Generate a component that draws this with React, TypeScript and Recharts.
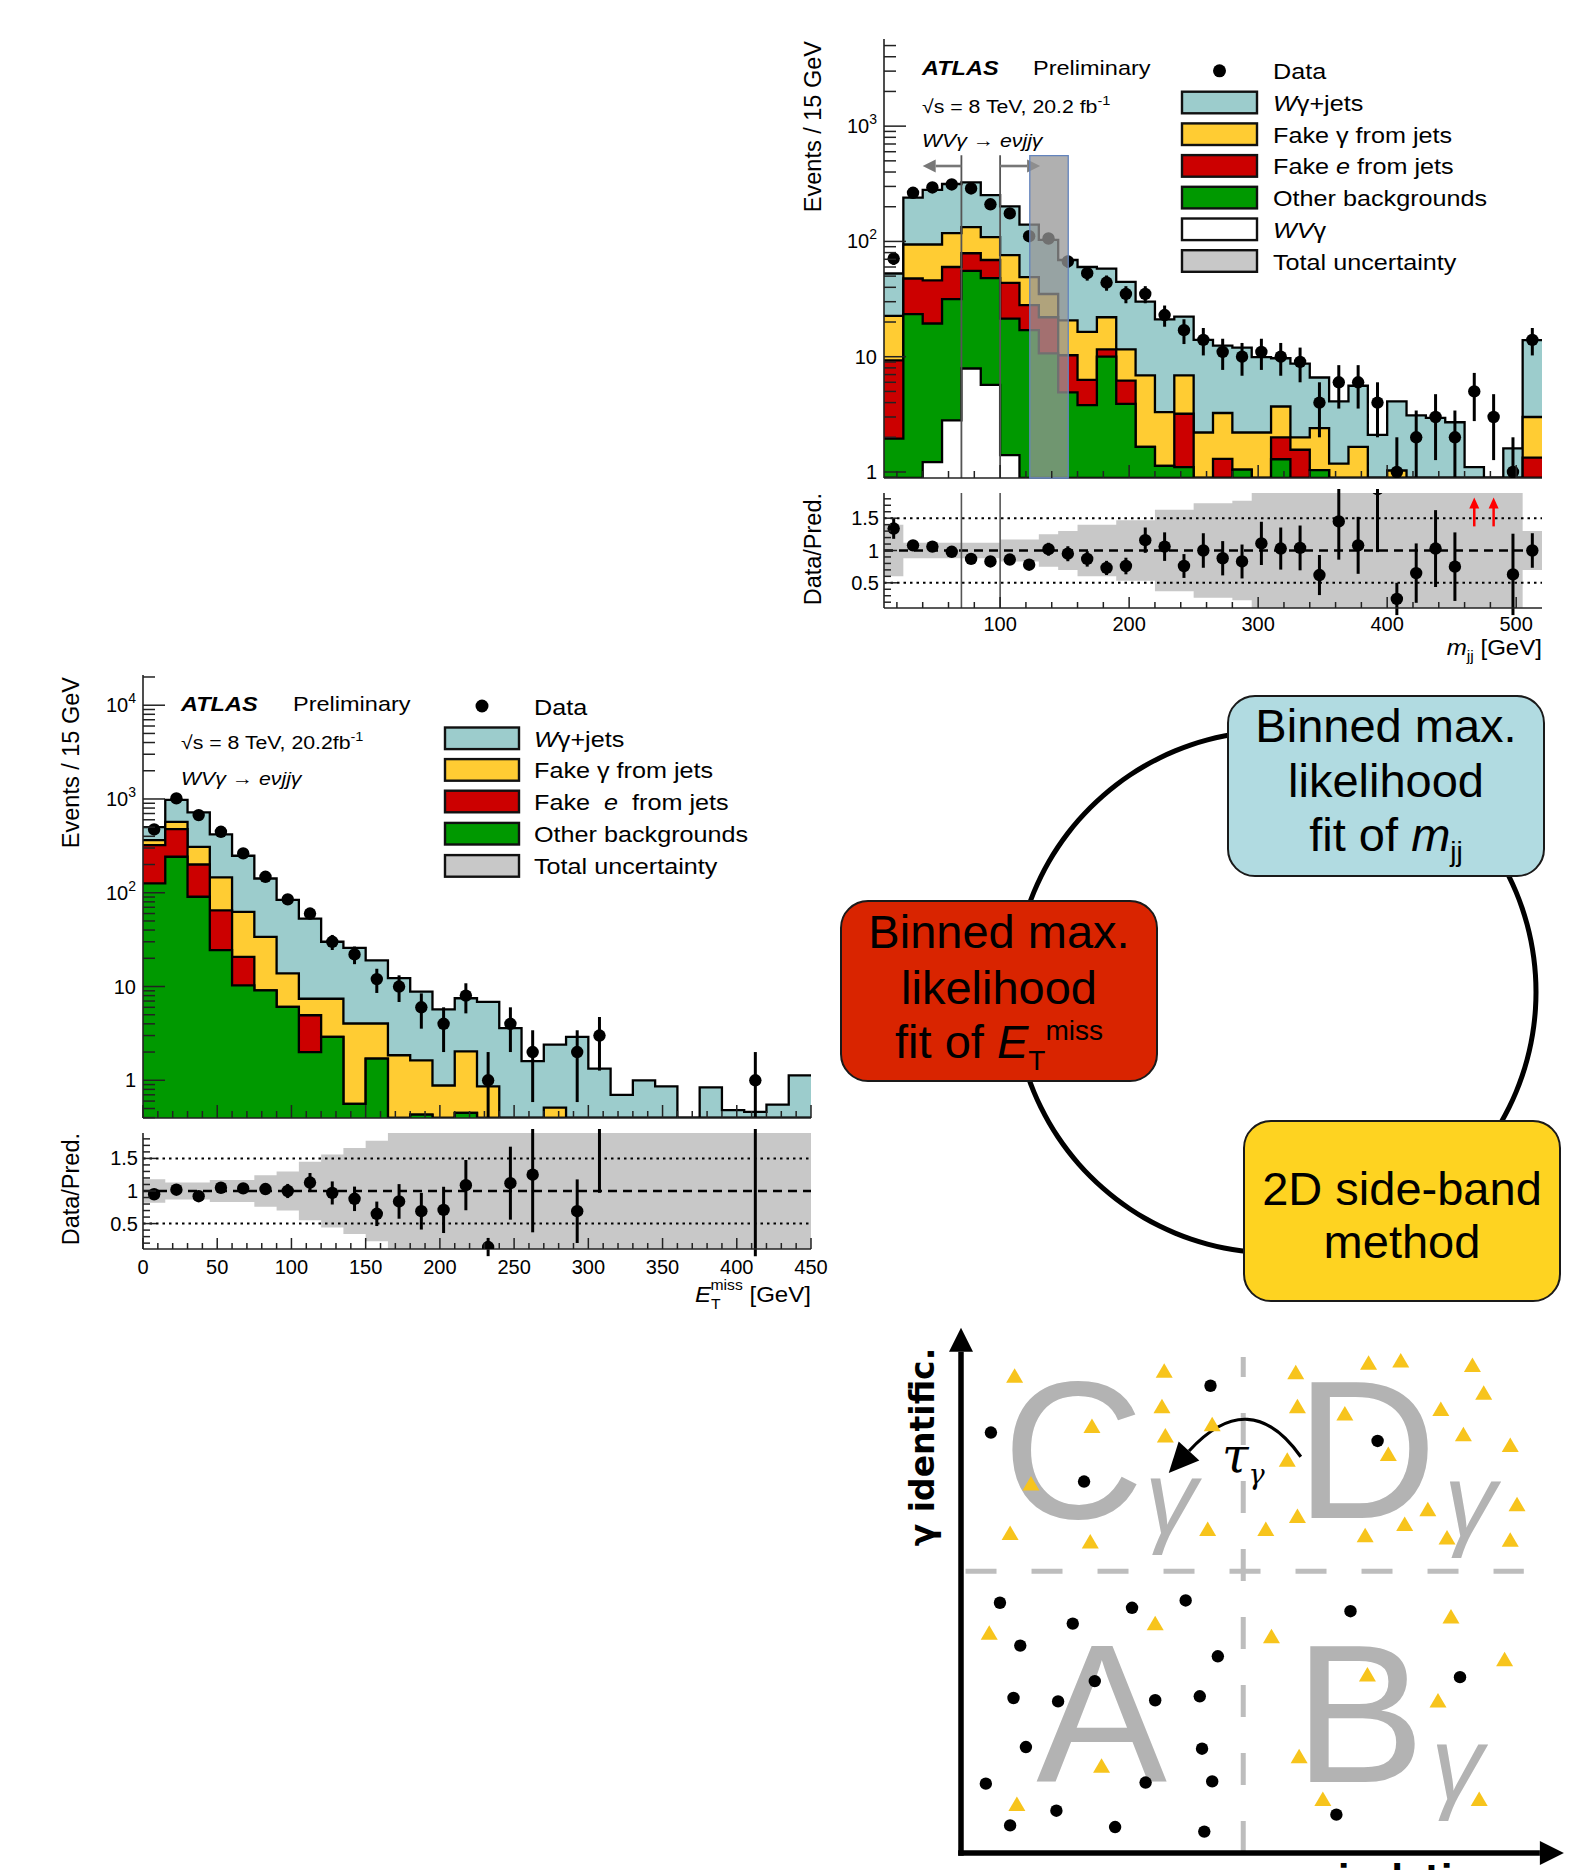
import React from 'react';
import {
  ComposedChart, ScatterChart, PieChart, Pie, Area, Scatter, XAxis, YAxis, ErrorBar,
  ReferenceLine, ReferenceArea, Legend,
} from 'recharts';

const FONT = '"Liberation Sans", Arial, Helvetica, sans-serif';
const BOLD_FONT = '"DejaVu Sans", "Liberation Sans", sans-serif';
const FRAME = '#222';
const C_WGJ = '#9ccccc';
const C_FAKEG = '#ffcc33';
const C_FAKEE = '#cc0000';
const C_OTHER = '#009900';
const C_WVG = '#ffffff';
const C_UNC = '#c8c8c8';

// ---------------- m_jj distribution (top right) ----------------
const mjjLowEdges = [10, 25, 40, 55, 70, 85, 100, 115, 130, 145, 160, 175, 190, 205, 220, 235, 250, 265, 280, 295, 310, 325, 340, 355, 370, 385, 400, 415, 430, 445, 460, 475, 490, 505];
const mjjHighEdge = 520;
const mjjWVgamma = [0, 0, 1.22, 2.8, 7.9, 5.7, 1.4, 0, 0, 0, 0, 0, 0, 0, 0, 0, 0, 0, 0, 0, 0, 0, 0, 0, 0, 0, 0, 0, 0, 0, 0, 0, 0, 0];
const mjjOther = [1.95, 23.4, 18.2, 28.8, 47.7, 42.3, 20, 17, 10.7, 4.9, 3.8, 10, 3.9, 1.65, 1.13, 1.1, 0, 0, 1.05, 0, 1.29, 0, 1.04, 0, 0, 0, 0, 0, 0, 0, 0, 0, 0, 0];
const mjjFakeE = [7.35, 24.3, 26.6, 28.4, 23.4, 21, 22.3, 11, 11.3, 5.4, 2.5, 1.6, 2.3, 0, 0, 2.1, 0, 1.3, 0, 0, 0.71, 1.56, 0, 0, 0, 0, 0, 0, 0, 0, 0, 0, 0, 1.33];
const mjjFakeGamma = [13.3, 46.3, 48, 58, 54, 40, 32.3, 21, 13, 10.4, 10.1, 10.4, 5.4, 5.25, 2.17, 3.7, 2.2, 1.95, 1.15, 2.2, 1.7, 0.44, 1.36, 1.18, 1.65, 0, 1.03, 0, 0, 0, 0, 0, 0, 1.67];
const mjjWgammaJets = [30.1, 146, 186, 197, 192, 143, 125, 91, 68, 48.3, 43.6, 36, 32.9, 23.1, 17.8, 15.4, 11.8, 9.25, 9.8, 7.7, 6.0, 6.7, 4.2, 2.92, 3.95, 2.1, 3.07, 3.1, 2.95, 2.7, 1.1, 0, 1.6, 10.9];
const mjjData = [71, 264, 294, 312, 288, 210, 175, 111, 106, 67, 53, 44, 35, 35, 23, 17, 14, 11, 10, 11, 10, 9, 4, 6, 6, 4, 1, 2, 3, 2, 5, 3, 1, 14];
const mjjRatio: (number | null)[] = [1.34, 1.08, 1.06, 0.98, 0.87, 0.83, 0.86, 0.78, 1.02, 0.95, 0.87, 0.73, 0.76, 1.16, 1.06, 0.76, 1.0, 0.88, 0.83, 1.11, 1.03, 1.04, 0.62, 1.45, 1.08, 1.95, 0.25, 0.65, 1.03, 0.75, null, null, 0.63, 1.0];
const mjjUncert = [0.40, 0.12, 0.12, 0.12, 0.12, 0.12, 0.17, 0.17, 0.25, 0.3, 0.4, 0.4, 0.47, 0.47, 0.63, 0.63, 0.73, 0.73, 0.77, 1, 1, 1, 1, 1, 1, 1, 1, 1, 1, 1, 1, 1, 1, 0.3];
const mjjArrowX = [467.5, 482.5];
const mjjArrowRatio = [1.59, 1.59];
const mjjXMajors = [100, 200, 300, 400, 500];
const mjjXMinors = [20, 40, 60, 80, 120, 140, 160, 180, 220, 240, 260, 280, 320, 340, 360, 380, 420, 440, 460, 480];
const mjjWindow = [70, 100];
const mjjBox = [123, 152.8];
const MJJ_FLOOR = 0.887;
const MJJ_TOP = 5700;

// ---------------- E_T^miss distribution (middle left) ----------------
const metLowEdges = [0, 15, 30, 45, 60, 75, 90, 105, 120, 135, 150, 165, 180, 195, 210, 225, 240, 255, 270, 285, 300, 315, 330, 345, 360, 375, 390, 405, 420, 435];
const metHighEdge = 450;
const metOther = [126, 242, 90.6, 24.4, 10.3, 9.1, 6.06, 2.0, 2.9, 0.56, 1.7, 0, 0.43, 0, 0.45, 0, 0, 0, 0, 0, 0, 0, 0, 0, 0, 0, 0, 0, 0, 0];
const metFakeE = [196, 235, 109.4, 40.6, 10.4, 0, 0, 2.94, 0, 0, 0, 0, 0, 0, 0, 0, 0, 0, 0, 0, 0, 0, 0, 0, 0, 0, 0, 0, 0, 0];
const metFakeGamma = [42, 94, 109, 81, 41.8, 24.7, 7.74, 2.46, 4.5, 3.47, 2.33, 1.85, 1.2, 0.88, 1.58, 0.86, 0, 0, 0.51, 0, 0, 0, 0, 0, 0, 0, 0, 0, 0, 0];
const metWgammaJets = [136, 409, 411, 274, 185.5, 108, 70, 45.6, 22.6, 21.8, 15, 10.45, 7.17, 4.82, 5.47, 5.99, 3.6, 1.6, 1.89, 2.9, 1.33, 0.70, 1.0, 0.86, 0, 0.84, 0.48, 0.46, 0.55, 1.13];
const metData = [473, 1015, 673, 447, 263, 148, 85, 60, 30, 22, 12, 10, 6, 4, 8, 1, 4, 2, 0, 2, 3, 0, 0, 0, 0, 0, 0, 1, 0, 0];
const metRatio: (number | null)[] = [0.95, 1.02, 0.92, 1.05, 1.04, 1.03, 1.0, 1.13, 0.97, 0.88, 0.65, 0.84, 0.69, 0.71, 1.09, 0.14, 1.12, 1.25, null, 0.69, 2.3, null, null, null, null, null, null, 2.2, null, null];
const metUncert = [0.18, 0.13, 0.13, 0.17, 0.17, 0.24, 0.3, 0.45, 0.56, 0.66, 0.77, 1, 1, 1, 1, 1, 1, 1, 1, 1, 1, 1, 1, 1, 1, 1, 1, 1, 1, 1];
const metXMajors = [0, 50, 100, 150, 200, 250, 300, 350, 400, 450];
const metXMinors = [10, 20, 30, 40, 60, 70, 80, 90, 110, 120, 130, 140, 160, 170, 180, 190, 210, 220, 230, 240, 260, 270, 280, 290, 310, 320, 330, 340, 360, 370, 380, 390, 410, 420, 430, 440];
const MET_FLOOR = 0.396;
const MET_TOP = 21000;

// ---------------- legends ----------------
const mjjLegendNames = ['Data', 'Wγ+jets', 'Fake γ from jets', 'Fake e from jets', 'Other backgrounds', 'WVγ', 'Total uncertainty'];
const mjjLegendColors = ['data', C_WGJ, C_FAKEG, C_FAKEE, C_OTHER, C_WVG, C_UNC];
const metLegendNames = ['Data', 'Wγ+jets', 'Fake γ from jets', 'Fake  e  from jets', 'Other backgrounds', 'Total uncertainty'];
const metLegendColors = ['data', C_WGJ, C_FAKEG, C_FAKEE, C_OTHER, C_UNC];

// ---------------- ABCD side-band sketch ----------------
const dotsX = [0.53, 2.18, 4.42, 7.38, 0.69, 3.03, 3.98, 1.98, 1.05, 4.55, 2.37, 0.93, 1.72, 3.44, 4.23, 1.15, 4.27, 0.44, 3.27, 4.45, 1.69, 0.87, 2.73, 4.31, 6.90, 8.84, 6.65];
const dotsY = [7.46, 6.59, 8.29, 7.31, 4.44, 4.35, 4.48, 4.07, 3.68, 3.49, 3.05, 2.75, 2.69, 2.71, 2.78, 1.88, 1.85, 1.23, 1.25, 1.27, 0.75, 0.49, 0.46, 0.38, 4.29, 3.12, 0.68];
const triX = [0.95, 3.60, 3.56, 2.32, 3.62, 4.45, 1.24, 0.87, 2.29, 4.37, 5.93, 5.96, 6.80, 7.22, 7.79, 9.06, 9.26, 8.50, 8.90, 9.73, 7.57, 5.78, 8.27, 7.86, 5.96, 5.40, 7.16, 8.61, 9.85, 9.73, 0.50, 3.44, 2.49, 0.99, 5.50, 8.68, 9.63, 7.20, 8.45, 5.99, 6.41, 9.18];
const triY = [8.45, 8.54, 7.91, 7.56, 7.39, 7.59, 6.54, 5.66, 5.51, 5.73, 8.51, 7.91, 7.78, 8.68, 8.72, 8.64, 8.15, 7.86, 7.41, 7.22, 7.06, 6.96, 6.08, 5.82, 5.96, 5.73, 5.62, 5.58, 6.17, 5.54, 3.89, 4.06, 1.53, 0.85, 3.83, 4.18, 3.42, 3.15, 2.69, 1.70, 0.94, 0.94];
const regionNames = ['C', 'D', 'A', 'B'];
const regionX = [1.99, 7.18, 2.49, 7.06];
const regionY = [5.94, 5.94, 1.26, 1.26];
const gammaX = [3.72, 9.02, 8.79];
const gammaY = [5.68, 5.63, 0.95];
const tauPos = [5.0, 6.76];
const transferFrom = [6.02, 7.03];
const transferTo = [3.68, 6.74];
const ABCD_X_MAX = 10.7;
const ABCD_Y_MAX = 9.35;
const cutIso = 5;
const cutId = 5;

// ---------------- helpers ----------------
function stackRows(low: number[], high: number, comps: number[][], floor: number) {
  const n = low.length;
  const rows: any[] = [];
  for (let i = 0; i <= n; i++) {
    const k = Math.min(i, n - 1);
    const row: any = { x: i < n ? low[i] : high };
    let acc = 0;
    comps.forEach((c, j) => {
      acc += c[k];
      row['s' + j] = Math.max(acc, floor);
    });
    rows.push(row);
  }
  return rows;
}
function binCenter(low: number[], high: number, i: number) {
  return (low[i] + (i + 1 < low.length ? low[i + 1] : high)) / 2;
}
function dataPoints(low: number[], high: number, counts: number[], floor: number) {
  return counts
    .map((n, i) => {
      const s = Math.sqrt(n);
      return { x: binCenter(low, high, i), y: n, e: [Math.min(s, n - floor * 1.0005), s] };
    })
    .filter((p) => p.y > 0);
}
function ratioPoints(low: number[], high: number, ratios: (number | null)[], counts: number[]) {
  const out: any[] = [];
  ratios.forEach((r, i) => {
    if (r === null || counts[i] <= 0) return;
    out.push({ x: binCenter(low, high, i), y: r, e: r / Math.sqrt(counts[i]) });
  });
  return out;
}
function bandRows(low: number[], high: number, unc: number[]) {
  const rows: any[] = low.map((l, i) => ({ x: l, band: [1 - unc[i], 1 + unc[i]] }));
  rows.push({ x: high, band: rows[rows.length - 1].band });
  return rows;
}
const logTicks = (lo: number, hi: number) => {
  const t: number[] = [];
  for (let e = -1; e <= 4; e++) {
    for (let m = 1; m <= 9; m++) {
      const v = Number((m * Math.pow(10, e)).toPrecision(6));
      if (v >= lo && v <= hi) t.push(v);
    }
  }
  return t;
};
const logMajors = [1, 10, 100, 1000, 10000];
const ratioTicks = [0.2, 0.3, 0.4, 0.5, 0.6, 0.7, 0.8, 0.9, 1, 1.1, 1.2, 1.3, 1.4, 1.5, 1.6, 1.7, 1.8];
const ratioMajors = [0.5, 1, 1.5];

type Side = 'bottom' | 'top' | 'left' | 'right';
function tickRenderer(side: Side, majors: number[], majLen: number, minLen: number, labelFn: ((v: number) => any) | null, gap: number) {
  const isMaj = (v: number) => majors.some((m) => Math.abs(m - v) < 1e-6 * Math.max(1, Math.abs(m)));
  return (p: any) => {
    const v = Number(p.payload.value);
    const x = Number(p.x);
    const y = Number(p.y);
    const maj = isMaj(v);
    const L = maj ? majLen : minLen;
    let x2 = x;
    let y2 = y;
    if (side === 'bottom') y2 = y - L;
    else if (side === 'top') y2 = y + L;
    else if (side === 'left') x2 = x + L;
    else x2 = x - L;
    let label: any = null;
    if (labelFn && maj) {
      if (side === 'bottom') {
        label = (
          <text x={x} y={y + gap} textAnchor="middle" fontSize={20} fontFamily={FONT} fill="#000">
            {labelFn(v)}
          </text>
        );
      } else if (side === 'left') {
        label = (
          <text x={x - gap} y={y + 7} textAnchor="end" fontSize={20} fontFamily={FONT} fill="#000">
            {labelFn(v)}
          </text>
        );
      }
    }
    return (
      <g>
        <line x1={x} y1={y} x2={x2} y2={y2} stroke={FRAME} strokeWidth={1.5} />
        {label}
      </g>
    );
  };
}
const logLabel = (v: number) => {
  const e = Math.round(Math.log10(v));
  if (e === 0) return '1';
  if (e === 1) return '10';
  return [
    <tspan key="b">10</tspan>,
    <tspan key="e" dy={-9} fontSize={14}>{String(e)}</tspan>,
  ];
};
const plainLabel = (v: number) => String(v);

const axisLine = { stroke: FRAME, strokeWidth: 1.6 };

const DataDot = (p: any) => <circle cx={p.cx} cy={p.cy} r={6.2} fill="#000" />;
const RedArrow = (p: any) => (
  <g>
    <line x1={p.cx} y1={p.cy + 14} x2={p.cx} y2={p.cy - 6} stroke="#f00" strokeWidth={2.5} />
    <polygon points={`${p.cx},${p.cy - 15} ${p.cx - 5},${p.cy - 4} ${p.cx + 5},${p.cy - 4}`} fill="#f00" />
  </g>
);
const arrowShape = (color: string, width: number, headLen: number, headHalf: number) => (p: any) => {
  const { x1, y1, x2, y2 } = p;
  const ang = Math.atan2(y2 - y1, x2 - x1);
  const bx = x2 - headLen * Math.cos(ang);
  const by = y2 - headLen * Math.sin(ang);
  const nx = -Math.sin(ang) * headHalf;
  const ny = Math.cos(ang) * headHalf;
  return (
    <g>
      <line x1={x1} y1={y1} x2={bx} y2={by} stroke={color} strokeWidth={width} />
      <polygon points={`${x2},${y2} ${bx + nx},${by + ny} ${bx - nx},${by - ny}`} fill={color} />
    </g>
  );
};
const curvedArrow = (p: any) => {
  const { x1, y1, x2, y2 } = p;
  const cx = (x1 + x2) / 2 + 15;
  const cy = Math.min(y1, y2) - 72;
  const ang = Math.atan2(y2 - cy, x2 - cx);
  const headLen = 30;
  const headHalf = 14;
  const bx = x2 - headLen * Math.cos(ang);
  const by = y2 - headLen * Math.sin(ang);
  const nx = -Math.sin(ang) * headHalf;
  const ny = Math.cos(ang) * headHalf;
  return (
    <g>
      <path d={`M${x1},${y1} Q${cx},${cy} ${bx},${by}`} fill="none" stroke="#000" strokeWidth={3.2} />
      <polygon points={`${x2},${y2} ${bx + nx},${by + ny} ${bx - nx},${by - ny}`} fill="#000" />
    </g>
  );
};

function richName(name: string) {
  if (name === 'Wγ+jets') return [<tspan key="a" fontStyle="italic">W</tspan>, <tspan key="b">γ+jets</tspan>];
  if (name === 'WVγ') return [<tspan key="a" fontStyle="italic">WV</tspan>, <tspan key="b">γ</tspan>];
  if (name.indexOf(' e ') >= 0) {
    const parts = name.split(' e ');
    return [<tspan key="a">{parts[0] + ' '}</tspan>, <tspan key="b" fontStyle="italic">e</tspan>, <tspan key="c">{' ' + parts[1]}</tspan>];
  }
  return name;
}

function LegendBlock(props: { ox: number; oy: number; w: number; h: number; names: string[]; colors: string[]; rowY: number[]; boxX: number; boxW: number; textX: number }) {
  const { ox, oy, w, h, names, colors, rowY, boxX, boxW, textX } = props;
  return (
    <svg width={w} height={h} style={{ overflow: 'visible' }}>
      <g transform={`translate(${-ox},${-oy})`}>
        {names.map((n, i) => (
          <g key={n}>
            {colors[i] === 'data' ? (
              <circle cx={boxX + boxW / 2} cy={rowY[i]} r={6.5} fill="#000" />
            ) : (
              <rect x={boxX} y={rowY[i] - 10.8} width={boxW} height={21.6} fill={colors[i]} stroke="#111" strokeWidth={2.4} />
            )}
            <g transform={`translate(${textX},${rowY[i] + 8.5}) scale(1.12 1)`}>
              <text x={0} y={0} fontSize={22.5} fontFamily={FONT} fill="#000" style={{ whiteSpace: 'pre' }}>
                {richName(n)}
              </text>
            </g>
          </g>
        ))}
      </g>
    </svg>
  );
}

function StretchText(props: { x: number; y: number; size: number; anchor?: string; sx?: number; weight?: string; italic?: boolean; family?: string; fill?: string; children: any }) {
  const { x, y, size, anchor = 'start', sx = 1.12, weight, italic, family = FONT, fill = '#000', children } = props;
  return (
    <g transform={`translate(${x} ${y}) scale(${sx} 1)`}>
      <text x={0} y={0} fontSize={size} textAnchor={anchor as any} fontWeight={weight} fontStyle={italic ? 'italic' : undefined} fontFamily={family} fill={fill}>
        {children}
      </text>
    </g>
  );
}

// ---------------- histogram panels ----------------
function HistMain(props: {
  plotL: number; plotT: number; plotW: number; plotH: number; leftW: number; topM: number; rightM: number;
  low: number[]; high: number; comps: number[][]; colors: string[]; counts: number[]; floor: number; top: number;
  xMajors: number[]; xMinors: number[]; children?: any; legend: any;
}) {
  const { plotL, plotT, plotW, plotH, leftW, topM, rightM, low, high, comps, colors, counts, floor, top, xMajors, xMinors, children, legend } = props;
  const rows = stackRows(low, high, comps, floor);
  const pts = dataPoints(low, high, counts, floor);
  const W = leftW + plotW + rightM;
  const H = topM + plotH + 4;
  const xTicks = [...xMajors, ...xMinors].sort((a, b) => a - b);
  const yTicks = logTicks(floor, top);
  const dom: [number, number] = [low[0], high];
  const keys = comps.map((_, j) => 's' + j).reverse();
  const cols = [...colors].reverse();
  return (
    <div style={{ position: 'absolute', left: plotL - leftW, top: plotT - topM, width: W, height: H }}>
      <ComposedChart width={W} height={H} data={rows} margin={{ top: topM, right: rightM, bottom: 0, left: 0 }}>
        <XAxis dataKey="x" type="number" domain={dom} allowDataOverflow ticks={xTicks} interval={0} tickSize={0} tickMargin={0} tickLine={false} height={4} axisLine={axisLine} tick={tickRenderer('bottom', xMajors, 13, 7, null, 0)} />
        <XAxis xAxisId="top" orientation="top" type="number" domain={dom} allowDataOverflow ticks={xTicks} interval={0} tickSize={0} tickMargin={0} tickLine={false} height={0} axisLine={axisLine} tick={tickRenderer('top', xMajors, 13, 7, null, 0)} />
        <YAxis scale="log" type="number" domain={[floor, top]} allowDataOverflow ticks={yTicks} interval={0} width={leftW} tickSize={0} tickMargin={0} tickLine={false} axisLine={axisLine} tick={tickRenderer('left', logMajors, 22, 12, logLabel, 7)} />
        <YAxis yAxisId="right" orientation="right" scale="log" type="number" domain={[floor, top]} allowDataOverflow ticks={yTicks} interval={0} width={0} tickSize={0} tickMargin={0} tickLine={false} axisLine={axisLine} tick={tickRenderer('right', logMajors, 22, 12, null, 0)} />
        {keys.map((k, i) => (
          <Area key={k} dataKey={k} type="stepAfter" baseValue={floor} stroke="#000" strokeWidth={2.3} fill={cols[i]} fillOpacity={1} isAnimationActive={false} dot={false} activeDot={false} />
        ))}
        {children}
        <Scatter data={pts} dataKey="y" shape={DataDot} isAnimationActive={false}>
          <ErrorBar dataKey="e" direction="y" width={0} strokeWidth={3} stroke="#000" />
        </Scatter>
        {legend}
      </ComposedChart>
    </div>
  );
}

function HistRatio(props: {
  plotL: number; plotT: number; plotW: number; plotH: number; leftW: number; topM: number; rightM: number; bottomH: number; labelGap: number;
  low: number[]; high: number; ratios: (number | null)[]; counts: number[]; unc: number[]; xMajors: number[]; xMinors: number[]; children?: any; after?: any;
}) {
  const { plotL, plotT, plotW, plotH, leftW, topM, rightM, bottomH, labelGap, low, high, ratios, counts, unc, xMajors, xMinors, children, after } = props;
  const rows = bandRows(low, high, unc);
  const pts = ratioPoints(low, high, ratios, counts);
  const W = leftW + plotW + rightM;
  const H = topM + plotH + bottomH;
  const xTicks = [...xMajors, ...xMinors].sort((a, b) => a - b);
  const dom: [number, number] = [low[0], high];
  const ydom: [number, number] = [0.11, 1.89];
  return (
    <div style={{ position: 'absolute', left: plotL - leftW, top: plotT - topM, width: W, height: H }}>
      <ComposedChart width={W} height={H} data={rows} margin={{ top: topM, right: rightM, bottom: 0, left: 0 }}>
        <XAxis dataKey="x" type="number" domain={dom} allowDataOverflow ticks={xTicks} interval={0} tickSize={0} tickMargin={0} tickLine={false} height={bottomH} axisLine={axisLine} tick={tickRenderer('bottom', xMajors, 11, 6, plainLabel, labelGap)} />
        <XAxis xAxisId="top" orientation="top" type="number" domain={dom} allowDataOverflow ticks={xTicks} interval={0} tickSize={0} tickMargin={0} tickLine={false} height={0} axisLine={axisLine} tick={tickRenderer('top', xMajors, 11, 6, null, 0)} />
        <YAxis type="number" domain={ydom} allowDataOverflow ticks={ratioTicks} interval={0} width={leftW} tickSize={0} tickMargin={0} tickLine={false} axisLine={axisLine} tick={tickRenderer('left', ratioMajors, 13, 7, plainLabel, 5)} />
        <YAxis yAxisId="right" orientation="right" type="number" domain={ydom} allowDataOverflow ticks={ratioTicks} interval={0} width={0} tickSize={0} tickMargin={0} tickLine={false} axisLine={axisLine} tick={tickRenderer('right', ratioMajors, 13, 7, null, 0)} />
        <Area dataKey="band" type="stepAfter" stroke="none" fill={C_UNC} fillOpacity={1} isAnimationActive={false} dot={false} activeDot={false} />
        <ReferenceLine y={0.5} stroke="#000" strokeWidth={2} strokeDasharray="2.5 4" />
        <ReferenceLine y={1.5} stroke="#000" strokeWidth={2} strokeDasharray="2.5 4" />
        <ReferenceLine y={1} stroke="#000" strokeWidth={2.6} strokeDasharray="9 6" />
        {children}
        <Scatter data={pts} dataKey="y" shape={DataDot} isAnimationActive={false}>
          <ErrorBar dataKey="e" direction="y" width={0} strokeWidth={3} stroke="#000" />
        </Scatter>
        {after}
      </ComposedChart>
    </div>
  );
}

// ---------------- page ----------------
export default function App() {
  const mjjLegend = (
    <Legend
      layout="vertical"
      align="center"
      verticalAlign="middle"
      wrapperStyle={{ left: 1170 - 784, top: 52 - 20, width: 360, height: 225 }}
      content={() => (
        <LegendBlock ox={1170} oy={52} w={360} h={225} names={mjjLegendNames} colors={mjjLegendColors}
          rowY={[70.8, 102.5, 134.2, 165.9, 197.6, 229.3, 261]} boxX={1182} boxW={75} textX={1273} />
      )}
    />
  );
  const metLegend = (
    <Legend
      layout="vertical"
      align="center"
      verticalAlign="middle"
      wrapperStyle={{ left: 430 - 43, top: 690 - 665, width: 360, height: 195 }}
      content={() => (
        <LegendBlock ox={430} oy={690} w={360} h={195} names={metLegendNames} colors={metLegendColors}
          rowY={[706, 738.3, 769.9, 801.5, 833.7, 865.9]} boxX={445} boxW={74} textX={534} />
      )}
    />
  );

  const letterPts = regionNames.map((t, i) => ({ x: regionX[i], y: regionY[i], t }));
  const gammaPts = gammaX.map((x, i) => ({ x, y: gammaY[i] }));
  const dotPts = dotsX.map((x, i) => ({ x, y: dotsY[i] }));
  const triPts = triX.map((x, i) => ({ x, y: triY[i] }));
  const tauPts = [{ x: tauPos[0], y: tauPos[1] }];

  return (
    <div style={{ position: 'absolute', left: 0, top: 0, width: 1591, height: 1870, overflow: 'hidden', background: '#fff', fontFamily: FONT }}>
      {/* m_jj main */}
      <HistMain plotL={884} plotT={39} plotW={658} plotH={439} leftW={100} topM={19} rightM={30}
        low={mjjLowEdges} high={mjjHighEdge} comps={[mjjWVgamma, mjjOther, mjjFakeE, mjjFakeGamma, mjjWgammaJets]}
        colors={[C_WVG, C_OTHER, C_FAKEE, C_FAKEG, C_WGJ]} counts={mjjData} floor={MJJ_FLOOR} top={MJJ_TOP}
        xMajors={mjjXMajors} xMinors={mjjXMinors} legend={mjjLegend}>
        {mjjWindow.map((w) => (
          <ReferenceLine key={'w' + w} segment={[{ x: w, y: MJJ_FLOOR }, { x: w, y: 560 }]} stroke="#555" strokeWidth={1.8} />
        ))}
        <ReferenceLine segment={[{ x: mjjWindow[0], y: 451 }, { x: 40, y: 451 }]} shape={arrowShape('#777', 2.6, 13, 6.5)} />
        <ReferenceLine segment={[{ x: mjjWindow[1], y: 451 }, { x: 131, y: 451 }]} shape={arrowShape('#777', 2.6, 13, 6.5)} />
        <ReferenceArea x1={mjjBox[0]} x2={mjjBox[1]} y1={MJJ_FLOOR} y2={555} fill="#969696" fillOpacity={0.75} stroke="#6384bd" strokeWidth={1.3} zIndex={700} />
      </HistMain>

      {/* m_jj ratio */}
      <HistRatio plotL={884} plotT={493} plotW={658} plotH={115} leftW={100} topM={4} rightM={30} bottomH={30} labelGap={23}
        low={mjjLowEdges} high={mjjHighEdge} ratios={mjjRatio} counts={mjjData} unc={mjjUncert}
        xMajors={mjjXMajors} xMinors={mjjXMinors}
        after={<Scatter data={mjjArrowX.map((x, i) => ({ x, y: mjjArrowRatio[i] }))} dataKey="y" shape={RedArrow} isAnimationActive={false} />}>
        {mjjWindow.map((w) => (
          <ReferenceLine key={'rw' + w} x={w} stroke="#555" strokeWidth={1.6} />
        ))}
      </HistRatio>

      {/* MET main */}
      <HistMain plotL={143} plotT={675} plotW={668} plotH={443} leftW={100} topM={10} rightM={20}
        low={metLowEdges} high={metHighEdge} comps={[metOther, metFakeE, metFakeGamma, metWgammaJets]}
        colors={[C_OTHER, C_FAKEE, C_FAKEG, C_WGJ]} counts={metData} floor={MET_FLOOR} top={MET_TOP}
        xMajors={metXMajors} xMinors={metXMinors} legend={metLegend} />

      {/* MET ratio */}
      <HistRatio plotL={143} plotT={1133} plotW={668} plotH={116} leftW={100} topM={4} rightM={20} bottomH={34} labelGap={25}
        low={metLowEdges} high={metHighEdge} ratios={metRatio} counts={metData} unc={metUncert}
        xMajors={metXMajors} xMinors={metXMinors} />

      {/* loop diagram ring */}
      <div style={{ position: 'absolute', left: 1275 - 265, top: 992 - 265, width: 530, height: 530 }}>
        <PieChart width={530} height={530} margin={{ top: 0, right: 0, bottom: 0, left: 0 }}>
          <Pie data={[{ name: 'loop', value: 1 }]} dataKey="value" cx={265} cy={265} innerRadius={258.5} outerRadius={263.5}
            startAngle={0} endAngle={360} fill="#000" stroke="none" isAnimationActive={false} />
        </PieChart>
      </div>
      {[
        { l: 840, t: 900, c: '#d92400' },
        { l: 1227, t: 695, c: '#b1dbe1' },
        { l: 1243, t: 1120, c: '#fed321' },
      ].map((b, i) => (
        <div key={i} style={{ position: 'absolute', left: b.l, top: b.t, width: 318, height: 182, boxSizing: 'border-box', background: b.c, border: '2px solid #1a1a1a', borderRadius: 28 }} />
      ))}

      {/* ABCD sketch */}
      <div style={{ position: 'absolute', left: 961 - 20, top: 1326 - 20, width: 644, height: 567 }}>
        <ScatterChart width={644} height={567} margin={{ top: 20, right: 20, bottom: 20, left: 20 }}>
          <XAxis type="number" dataKey="x" domain={[0, ABCD_X_MAX]} allowDataOverflow hide />
          <YAxis type="number" dataKey="y" domain={[0, ABCD_Y_MAX]} allowDataOverflow hide />
          <Scatter data={letterPts} isAnimationActive={false}
            shape={(p: any) => (
              <text x={p.cx} y={p.cy} textAnchor="middle" fontSize={196} fontFamily={FONT} fill="#b3b3b3">{p.payload.t}</text>
            )} />
          <Scatter data={gammaPts} isAnimationActive={false}
            shape={(p: any) => (
              <text x={p.cx} y={p.cy} textAnchor="middle" fontSize={104} fontStyle="italic" fontFamily={FONT} fill="#b3b3b3">γ</text>
            )} />
          <ReferenceLine segment={[{ x: cutIso, y: 0 }, { x: cutIso, y: 8.8 }]} stroke="#bdbdbd" strokeWidth={5} strokeDasharray="32 36" ifOverflow="visible" />
          <ReferenceLine segment={[{ x: 0.08, y: cutId }, { x: 9.97, y: cutId }]} stroke="#bdbdbd" strokeWidth={5} strokeDasharray="31 35" ifOverflow="visible" />
          <ReferenceLine segment={[{ x: 0, y: -0.05 }, { x: 0, y: 9.32 }]} shape={arrowShape('#000', 5.5, 24, 12)} ifOverflow="visible" />
          <ReferenceLine segment={[{ x: -0.05, y: 0 }, { x: 10.68, y: 0 }]} shape={arrowShape('#000', 5.5, 24, 12)} ifOverflow="visible" />
          <ReferenceLine segment={[{ x: transferFrom[0], y: transferFrom[1] }, { x: transferTo[0], y: transferTo[1] }]} shape={curvedArrow} ifOverflow="visible" />
          <Scatter data={tauPts} isAnimationActive={false}
            shape={(p: any) => (
              <text x={p.cx} y={p.cy} textAnchor="middle" fontFamily='"DejaVu Serif", serif' fill="#000">
                <tspan fontSize={48} fontStyle="italic">τ</tspan>
                <tspan fontSize={27} fontStyle="italic" dy={12}>γ</tspan>
              </text>
            )} />
          <Scatter data={triPts} isAnimationActive={false}
            shape={(p: any) => (
              <polygon points={`${p.cx},${p.cy - 8.5} ${p.cx - 8.5},${p.cy + 6} ${p.cx + 8.5},${p.cy + 6}`} fill="#f7c41c" />
            )} />
          <Scatter data={dotPts} isAnimationActive={false} shape={(p: any) => <circle cx={p.cx} cy={p.cy} r={6.2} fill="#000" />} />
        </ScatterChart>
      </div>

      {/* text overlay */}
      <svg width={1591} height={1870} style={{ position: 'absolute', left: 0, top: 0, pointerEvents: 'none' }}>
        {/* m_jj panel texts */}
        <StretchText x={922} y={75} size={21} weight="bold" italic>ATLAS</StretchText>
        <StretchText x={1033} y={75} size={21}>Preliminary</StretchText>
        <StretchText x={922} y={113} size={19}>
          <tspan>√s = 8 TeV, 20.2 fb</tspan>
          <tspan dy={-8} fontSize={13}>-1</tspan>
        </StretchText>
        <StretchText x={922} y={147} size={19} italic>WVγ → eνjjγ</StretchText>
        <text transform="rotate(-90 821 41)" x={821} y={41} textAnchor="end" fontSize={23.5} fontFamily={FONT}>Events / 15 GeV</text>
        <text transform="rotate(-90 821 493)" x={821} y={493} textAnchor="end" fontSize={23.5} fontFamily={FONT}>Data/Pred.</text>
        <StretchText x={1542} y={655} size={21.5} anchor="end">
          <tspan fontStyle="italic">m</tspan>
          <tspan dy={6} fontSize={14}>jj</tspan>
          <tspan dy={-6}> [GeV]</tspan>
        </StretchText>

        {/* MET panel texts */}
        <StretchText x={181} y={711} size={21} weight="bold" italic>ATLAS</StretchText>
        <StretchText x={293} y={711} size={21}>Preliminary</StretchText>
        <StretchText x={181} y={749} size={19}>
          <tspan>√s = 8 TeV, 20.2fb</tspan>
          <tspan dy={-8} fontSize={13}>-1</tspan>
        </StretchText>
        <StretchText x={181} y={785} size={19} italic>WVγ → eνjjγ</StretchText>
        <text transform="rotate(-90 79 677)" x={79} y={677} textAnchor="end" fontSize={23.5} fontFamily={FONT}>Events / 15 GeV</text>
        <text transform="rotate(-90 79 1133)" x={79} y={1133} textAnchor="end" fontSize={23.5} fontFamily={FONT}>Data/Pred.</text>
        <StretchText x={811} y={1302} size={21.5} anchor="end">
          <tspan fontStyle="italic">E</tspan>
          <tspan dy={7} fontSize={14}>T</tspan>
          <tspan dx={-9} dy={-19} fontSize={14}>miss</tspan>
          <tspan dy={12}> [GeV]</tspan>
        </StretchText>

        {/* loop boxes texts */}
        <g fontFamily={FONT} fontSize={47} fill="#000" textAnchor="middle">
          <text x={1386} y={742}>Binned max.</text>
          <text x={1386} y={797}>likelihood</text>
          <text x={1386} y={851}>
            <tspan>fit of </tspan>
            <tspan fontStyle="italic">m</tspan>
            <tspan fontSize={28} dy={10}>jj</tspan>
          </text>
          <text x={999} y={948}>Binned max.</text>
          <text x={999} y={1004}>likelihood</text>
          <text x={999} y={1058}>
            <tspan>fit of </tspan>
            <tspan fontStyle="italic">E</tspan>
            <tspan fontSize={28} dy={12}>T</tspan>
            <tspan fontSize={28} dy={-30}>miss</tspan>
          </text>
          <text x={1402} y={1205}>2D side-band</text>
          <text x={1402} y={1258}>method</text>
        </g>

        {/* ABCD axis titles */}
        <text transform="rotate(-90 934 1447)" x={934} y={1447} textAnchor="middle" fontSize={33} fontWeight="bold" fontFamily={BOLD_FONT}>γ identific.</text>
        <text x={1304} y={1889} fontSize={33} fontWeight="bold" fontFamily={BOLD_FONT}>γ isolation</text>
      </svg>
    </div>
  );
}
